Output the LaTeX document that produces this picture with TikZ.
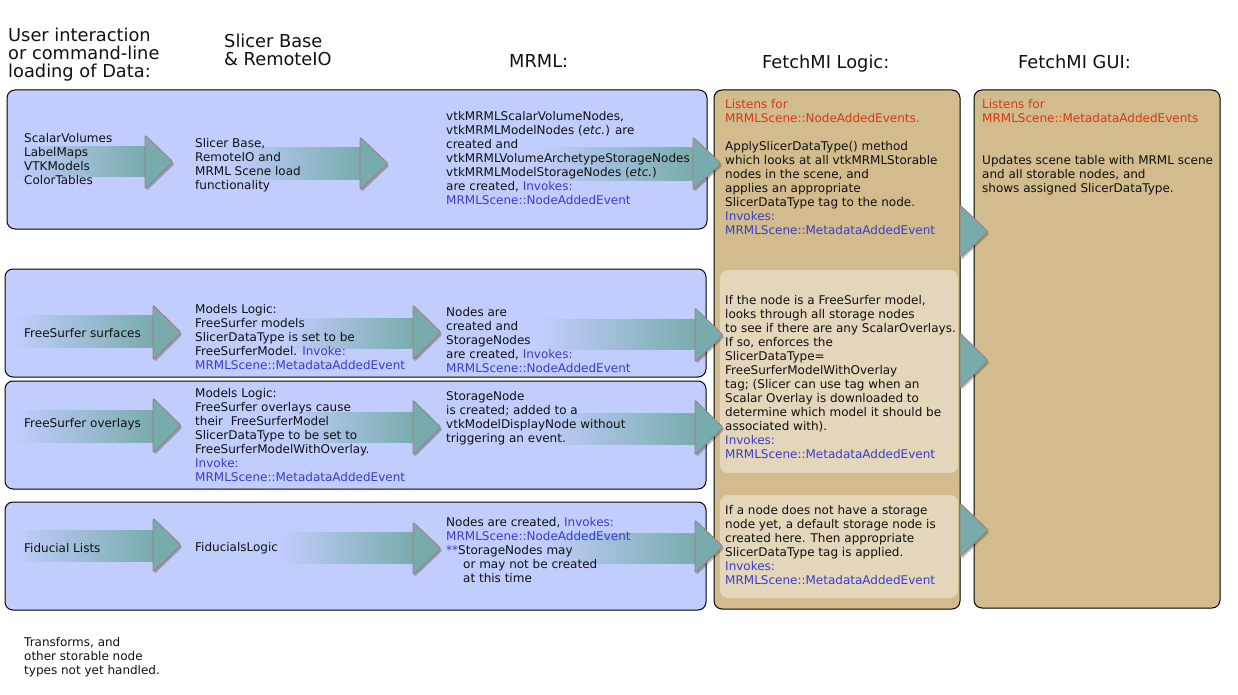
\documentclass[tikz,border=0pt]{standalone}
\usepackage{fontspec}
\setmainfont{DejaVu Sans}
\usetikzlibrary{shadows}
\definecolor{boxblue}{RGB}{193,205,253}
\definecolor{tanbox}{RGB}{210,187,140}
\definecolor{innertan}{RGB}{227,214,186}
\definecolor{arrteal}{RGB}{120,172,172}
\definecolor{arredge}{RGB}{165,120,115}
\definecolor{evred}{RGB}{214,58,18}
\definecolor{evblue}{RGB}{60,60,205}
\definecolor{inkcol}{RGB}{17,17,17}
\newcommand\evb[1]{\textcolor{evblue}{#1}}
\newcommand\evr[1]{\textcolor{evred}{#1}}
\newcommand\bodyfont{\fontsize{12}{14}\selectfont}
\newcommand\headfont{\fontsize{17.8}{18}\selectfont}
\newcommand\bst{\rule{0pt}{9.8pt}}
\newcommand\hst{\rule{0pt}{13pt}}
\newcommand\mshaft[4]{\shade[left color=boxblue,right color=arrteal] (#1,#3) rectangle (#2,#4);}
\newcommand\mtri[3]{\draw[tri] (#1,#2) -- ({#1+28},{(#2+#3)/2}) -- (#1,#3) -- cycle;}
\tikzset{
  bluebox/.style={draw=black, line width=1pt, fill=boxblue, rounded corners=8pt},
  tanpanel/.style={draw=black, line width=1pt, fill=tanbox, rounded corners=8pt},
  innerpanel/.style={fill=innertan, rounded corners=8pt},
  txt/.style={anchor=north west, inner sep=0pt, align=left, font=\bodyfont, text=inkcol},
  head/.style={anchor=north west, inner sep=0pt, align=left, font=\headfont, text=inkcol},
  tri/.style={fill=arrteal, draw=arredge, line width=0.8pt, rounded corners=2pt,
    drop shadow={shadow xshift=1.5pt, shadow yshift=-2pt, opacity=0.25, fill=black}}
}
\begin{document}
\begin{tikzpicture}[x=1pt,y=-1pt]
\useasboundingbox (0,0) rectangle (1238,695);
\fill[white] (0,0) rectangle (1238,695);
% panels
\draw[bluebox] (7,90) rectangle (707,229);
\draw[bluebox] (5,269) rectangle (706,377);
\draw[bluebox] (5,381) rectangle (706,489);
\draw[bluebox] (5,502) rectangle (706,610);
\draw[tanpanel] (714,90) rectangle (960,609);
\draw[tanpanel] (974,90) rectangle (1220,608);
\fill[innerpanel] (720,270) rectangle (958,473);
\fill[innerpanel] (720,495) rectangle (958,598);
% shafts
\mshaft{14}{146}{147}{177}
\mshaft{230}{361}{148}{179}
\mshaft{540}{694}{148}{180}
\mshaft{14}{154}{315}{347}
\mshaft{285}{414}{318}{348}
\mshaft{540}{696}{319}{349}
\mshaft{14}{154}{410}{442}
\mshaft{285}{414}{412}{442}
\mshaft{540}{696}{413}{444}
\mshaft{14}{154}{530}{561}
\mshaft{280}{414}{532}{563}
\mshaft{540}{696}{533}{563}
% triangles
\mtri{145}{135}{189}
\mtri{360}{137}{190}
\mtri{693}{137}{190}
\mtri{960}{205}{258}
\mtri{153}{305}{360}
\mtri{413}{305}{360}
\mtri{695}{308}{362}
\mtri{960}{333}{388}
\mtri{153}{398}{453}
\mtri{413}{400}{455}
\mtri{695}{400}{455}
\mtri{153}{518}{572}
\mtri{413}{522}{575}
\mtri{695}{520}{573}
\mtri{960}{503}{557}
% headers
\node[head] (h1) at (8,28) {\hst User interaction\\or command-line\\loading of Data:};
\node[head] (h2) at (224,34) {\hst Slicer Base\\\& RemoteIO};
\node[head] (h3) at (509,54) {\hst MRML:};
\node[head] (h4) at (762,55) {\hst FetchMI Logic:};
\node[head] (h5) at (1018,55) {\hst FetchMI GUI:};
% row 1
\node[txt] (r1in) at (24,132.5) {\bst ScalarVolumes\\LabelMaps\\VTKModels\\ColorTables};
\node[txt] (r1sb) at (195,137.5) {\bst Slicer Base,\\RemoteIO and\\MRML Scene load\\functionality};
\node[txt] (r1mr) at (446,110.5) {\bst vtkMRMLScalarVolumeNodes,\\vtkMRMLModelNodes (\textit{etc.}) are\\created and\\vtkMRMLVolumeArchetypeStorageNodes\\vtkMRMLModelStorageNodes (\textit{etc.})\\are created, \evb{Invokes:}\\\evb{MRMLScene::NodeAddedEvent}};
\node[txt] (lg1) at (725,98.5) {\bst\evr{Listens for}\\\evr{MRMLScene::NodeAddedEvents.}\\[14pt]ApplySlicerDataType() method\\which looks at all vtkMRMLStorable\\nodes in the scene, and\\applies an appropriate\\SlicerDataType tag to the node.\\\evb{Invokes:}\\\evb{MRMLScene::MetadataAddedEvent}};
\node[txt] (gui) at (982,98.5) {\bst\evr{Listens for}\\\evr{MRMLScene::MetadataAddedEvents}\\[28pt]Updates scene table with MRML scene\\and all storable nodes, and\\shows assigned SlicerDataType.};
% row 2
\node[txt] (r2in) at (24,327.5) {\bst FreeSurfer surfaces};
\node[txt] (r2ml) at (195,303.5) {\bst Models Logic:\\FreeSurfer models\\SlicerDataType is set to be\\FreeSurferModel. \evb{Invoke:}\\\evb{MRMLScene::MetadataAddedEvent}};
\node[txt] (r2mr) at (446,306.5) {\bst Nodes are\\created and\\StorageNodes\\are created, \evb{Invokes:}\\\evb{MRMLScene::NodeAddedEvent}};
% row 3
\node[txt] (r3in) at (24,417.5) {\bst FreeSurfer overlays};
\node[txt] (r3ml) at (195,387.5) {\bst Models Logic:\\FreeSurfer overlays cause\\their\ \ FreeSurferModel\\SlicerDataType to be set to\\FreeSurferModelWithOverlay.\\\evb{Invoke:}\\\evb{MRMLScene::MetadataAddedEvent}};
\node[txt] (r3mr) at (446,390.5) {\bst StorageNode\\is created; added to a\\vtkModelDisplayNode without\\triggering an event.};
\node[txt] (lg2) at (725,294.5) {\bst If the node is a FreeSurfer model,\\looks through all storage nodes\\to see if there are any ScalarOverlays.\\If so, enforces the\\SlicerDataType=\\FreeSurferModelWithOverlay\\tag; (Slicer can use tag when an\\Scalar Overlay is downloaded to\\determine which model it should be\\associated with).\\\evb{Invokes:}\\\evb{MRMLScene::MetadataAddedEvent}};
% row 4
\node[txt] (r4in) at (24,542.5) {\bst Fiducial Lists};
\node[txt] (r4fl) at (195,541.5) {\bst FiducialsLogic};
\node[txt] (r4mr) at (446,516.5) {\bst Nodes are created, \evb{Invokes:}\\\evb{MRMLScene::NodeAddedEvent}\\\evb{**}StorageNodes may\\\hspace*{17pt}or may not be created\\\hspace*{17pt}at this time};
\node[txt] (lg3) at (725,504.5) {\bst If a node does not have a storage\\node yet, a default storage node is\\created here. Then appropriate\\SlicerDataType tag is applied.\\\evb{Invokes:}\\\evb{MRMLScene::MetadataAddedEvent}};
% note
\node[txt] (note) at (24,636.5) {\bst Transforms, and\\other storable node\\types not yet handled.};
\end{tikzpicture}
\end{document}
